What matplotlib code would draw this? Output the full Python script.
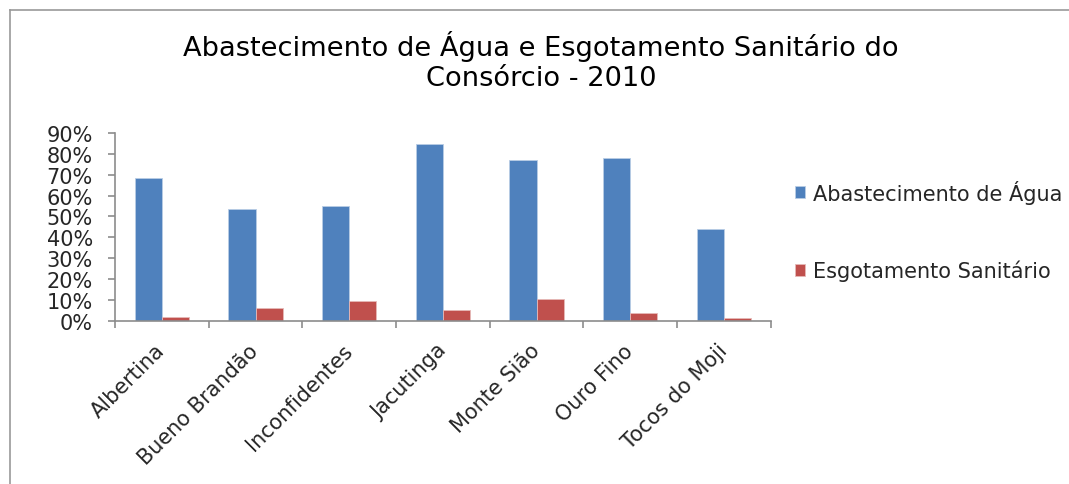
import matplotlib
matplotlib.use("Agg")
import matplotlib.pyplot as plt
from matplotlib.lines import Line2D
import numpy as np

plt.rcParams['font.family'] = ['DejaVu Sans']

municipios = ["Albertina", "Bueno Brandão", "Inconfidentes", "Jacutinga",
              "Monte Sião", "Ouro Fino", "Tocos do Moji"]
abastecimento = [0.686, 0.536, 0.550, 0.846, 0.771, 0.779, 0.441]
esgotamento = [0.019, 0.061, 0.095, 0.053, 0.104, 0.037, 0.012]
y_ticks = [0.0, 0.1, 0.2, 0.3, 0.4, 0.5, 0.6, 0.7, 0.8, 0.9]
y_labels = ["0%", "10%", "20%", "30%", "40%", "50%", "60%", "70%", "80%", "90%"]

azul = "#4F81BD"
vermelho = "#C0504D"
cinza = "#8c8c8c"
texto = "#262626"

fig = plt.figure(figsize=(10.69, 4.85), dpi=100)
ax = fig.add_axes([0.1076, 0.3367, 0.6134, 0.387])

x = np.arange(len(municipios))
w = 0.29
ax.bar(x - w / 2, abastecimento, w, color=azul, edgecolor="#b9cde5",
       linewidth=0.6, label="Abastecimento de Água")
ax.bar(x + w / 2, esgotamento, w, color=vermelho, edgecolor="#e6b9b8",
       linewidth=0.6, label="Esgotamento Sanitário")

ax.set_xlim(-0.5, len(municipios) - 0.5)
ax.set_ylim(0, 0.9)
ax.set_yticks(y_ticks)
ax.set_yticklabels(y_labels)
ax.set_xticks(x)
ax.set_xticklabels(municipios, rotation=45, ha="right", va="center",
                   rotation_mode="anchor")
ax.set_xticks(np.arange(-0.5, len(municipios)), minor=True)
ax.tick_params(axis="x", which="major", length=0, pad=19, labelsize=15, labelcolor=texto)
ax.tick_params(axis="x", which="minor", length=5, width=1.2, color=cinza, direction="out")
ax.tick_params(axis="y", length=5, width=1.2, color=cinza, pad=11, labelsize=15,
               labelcolor=texto)

for s in ["top", "right"]:
    ax.spines[s].set_visible(False)
for s in ["left", "bottom"]:
    ax.spines[s].set_color(cinza)
    ax.spines[s].set_linewidth(1.2)

fig.text(541 / 1069, 1 - 61 / 485,
         "Abastecimento de Água e Esgotamento Sanitário do\nConsórcio - 2010",
         ha="center", va="center", fontsize=19.6, color="black")

leg = fig.legend(loc="center left", bbox_to_anchor=(795 / 1069, 1 - 231.5 / 485),
                 frameon=False, fontsize=15, handlelength=0.5, handleheight=0.5,
                 handletextpad=0.35, labelspacing=2.7, borderpad=0, borderaxespad=0)
for t in leg.get_texts():
    t.set_color(texto)

# moldura do gráfico (só topo e esquerda aparecem no recorte)
fig.add_artist(Line2D([10 / 1069, 10 / 1069], [0, 1 - 11 / 485],
                      transform=fig.transFigure, color="#999999", lw=1.2))
fig.add_artist(Line2D([10 / 1069, 1], [1 - 11 / 485, 1 - 11 / 485],
                      transform=fig.transFigure, color="#999999", lw=1.2))

fig.savefig("out.png", dpi=100)
